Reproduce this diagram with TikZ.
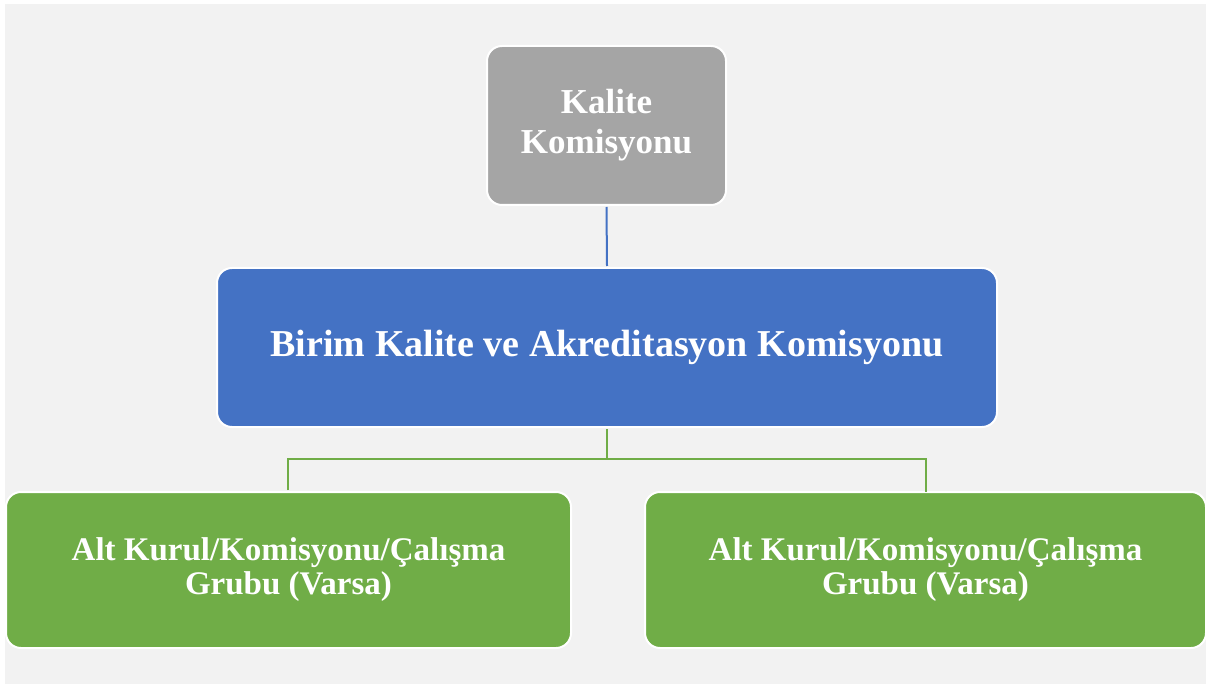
\documentclass[tikz,border=0pt]{standalone}
\usepackage{fontspec}
\setmainfont{Liberation Serif}
\definecolor{bggray}{HTML}{F2F2F2}
\definecolor{boxgray}{HTML}{A5A5A5}
\definecolor{boxblue}{HTML}{4472C4}
\definecolor{boxgreen}{HTML}{70AD47}
\begin{document}
\begin{tikzpicture}[x=1pt,y=-1pt,
  box/.style={draw=white,line width=2pt,rounded corners=15pt,inner sep=0pt,
    text=white,align=center},
  link/.style={line width=2pt}]
\useasboundingbox (0,0) rectangle (1206,684);
\fill[white] (0,0) rectangle (1206,684);
\fill[bggray] (5,4) rectangle (1206,684);
\node[box,fill=boxgray,minimum width=239pt,minimum height=159pt,font=\fontsize{35}{40}\selectfont\bfseries] (top) at (606.5,125.5) {\raisebox{-3pt}{Kalite}\\\raisebox{-3pt}{Komisyonu}};
\node[box,fill=boxblue,minimum width=780pt,minimum height=159pt,font=\fontsize{38}{40}\selectfont\bfseries] (mid) at (607,347.5) {\raisebox{-1pt}{Birim Kalite ve Akreditasyon Komisyonu}};
\node[box,fill=boxgreen,minimum width=565pt,minimum height=156pt,font=\fontsize{33}{34}\selectfont\bfseries] (left) at (288.5,570) {\raisebox{-2pt}{Alt Kurul/Komisyonu/Çalışma}\\\raisebox{-2pt}{Grubu (Varsa)}};
\node[box,fill=boxgreen,minimum width=561pt,minimum height=156pt,font=\fontsize{33}{34}\selectfont\bfseries] (right) at (925.5,570) {\raisebox{-2pt}{Alt Kurul/Komisyonu/Çalışma}\\\raisebox{-2pt}{Grubu (Varsa)}};
\coordinate (j) at (607,459);
\draw[link,boxblue] ([yshift=-1pt]top.south) -- ([yshift=1pt]mid.north);
\draw[link,boxgreen] ([yshift=-1pt]mid.south) -- (j);
\draw[link,boxgreen] (left.north -| 288,0) ++(0,-1) |- (j) -| ([yshift=-1pt]right.north -| 926,0);
\end{tikzpicture}
\end{document}
